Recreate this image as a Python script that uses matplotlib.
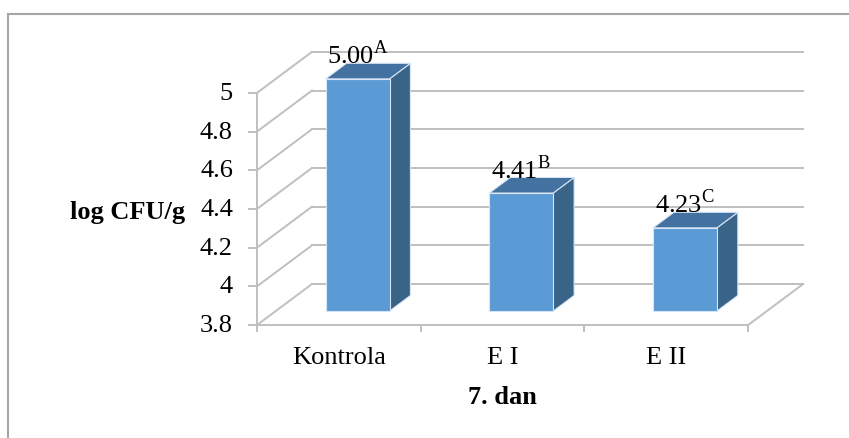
import matplotlib
matplotlib.use('Agg')
import matplotlib.pyplot as plt
from matplotlib.patches import Polygon, Rectangle

# data
categories = ['Kontrola', 'E I', 'E II']
values = [5.00, 4.41, 4.23]
letters = ['A', 'B', 'C']
y_ticks = [3.8, 4.0, 4.2, 4.4, 4.6, 4.8, 5.0]
y_tick_labels = ['3.8', '4', '4.2', '4.4', '4.6', '4.8', '5']
y_title = 'log CFU/g'
x_title = '7. dan'

plt.rcParams['font.family'] = 'Liberation Serif'
plt.rcParams['mathtext.fontset'] = 'custom'
plt.rcParams['mathtext.rm'] = 'Liberation Serif'

ymin, ymax = y_ticks[0], y_ticks[-1]
wall_dx, wall_dy = 0.336, 0.212    # depth of the 3d box in data units
bar_front, bar_back = 0.34, 0.72   # bar depth as fraction of box depth
bar_width = 0.39
grid_c = '#BFBFBF'
fs = 19

fig = plt.figure(figsize=(8.49, 4.39), dpi=100)
ax = fig.add_axes([0, 0, 1, 1])
ax.set_xlim(-1.570, 3.616)
ax.set_ylim(3.216, 5.485)
ax.axis('off')

n = len(categories)

# walls: left wall diagonals and back wall gridlines
for t in y_ticks:
    ax.plot([0, wall_dx], [t, t + wall_dy], color=grid_c, lw=1.4, zorder=1)
    ax.plot([wall_dx, n + wall_dx], [t + wall_dy, t + wall_dy], color=grid_c, lw=1.4, zorder=1)
    ax.plot([-0.05, 0], [t, t], color=grid_c, lw=1.4, zorder=1)

# floor edges and front vertical axis
ax.plot([0, n], [ymin, ymin], color=grid_c, lw=1.4, zorder=1)
ax.plot([n, n + wall_dx], [ymin, ymin + wall_dy], color=grid_c, lw=1.4, zorder=1)
ax.plot([0, 0], [ymin, ymax], color=grid_c, lw=1.4, zorder=1)
for i in range(n + 1):
    ax.plot([i, i], [ymin, ymin - 0.03], color=grid_c, lw=1.4, zorder=1)

# bars
ddx = (bar_back - bar_front) * wall_dx
ddy = (bar_back - bar_front) * wall_dy
edge = '#D6E4F5'
for i, (v, let) in enumerate(zip(values, letters)):
    x0 = i + 0.5 - bar_width / 2 + bar_front * wall_dx
    x1 = x0 + bar_width
    b = ymin + bar_front * wall_dy
    top = v + bar_front * wall_dy
    side = Polygon([(x1, b), (x1 + ddx, b + ddy), (x1 + ddx, top + ddy), (x1, top)],
                   facecolor='#3A6388', edgecolor=edge, lw=0.8, zorder=3)
    lid = Polygon([(x0, top), (x1, top), (x1 + ddx, top + ddy), (x0 + ddx, top + ddy)],
                  facecolor='#4472A0', edgecolor=edge, lw=0.8, zorder=3)
    face = Rectangle((x0, b), bar_width, top - b,
                     facecolor='#5B9BD5', edgecolor=edge, lw=0.8, zorder=4)
    ax.add_patch(side)
    ax.add_patch(lid)
    ax.add_patch(face)
    ax.text(i + 0.5 + bar_front * wall_dx, v + bar_back * wall_dy,
            '%.2f$^{\\mathrm{%s}}$' % (v, let), ha='center', va='baseline',
            fontsize=fs, zorder=5)

# axis labels
for t, lab in zip(y_ticks, y_tick_labels):
    ax.text(-0.147, t, lab, ha='right', va='center', fontsize=fs)
for i, c in enumerate(categories):
    ax.text(i + 0.5, 3.635, c, ha='center', va='center', fontsize=fs)
ax.text(n / 2, 3.428, x_title, ha='center', va='center', fontsize=fs, fontweight='bold')
ax.text(-0.44, 4.385, y_title, ha='right', va='center', fontsize=fs, fontweight='bold')

# chart frame
fig.add_artist(Rectangle((8 / 849, -0.1), 1.1, 1 - 15 / 439 + 0.1, transform=fig.transFigure,
                         fill=False, edgecolor='#A6A6A6', lw=1.5))

fig.savefig('out.png', dpi=100)
